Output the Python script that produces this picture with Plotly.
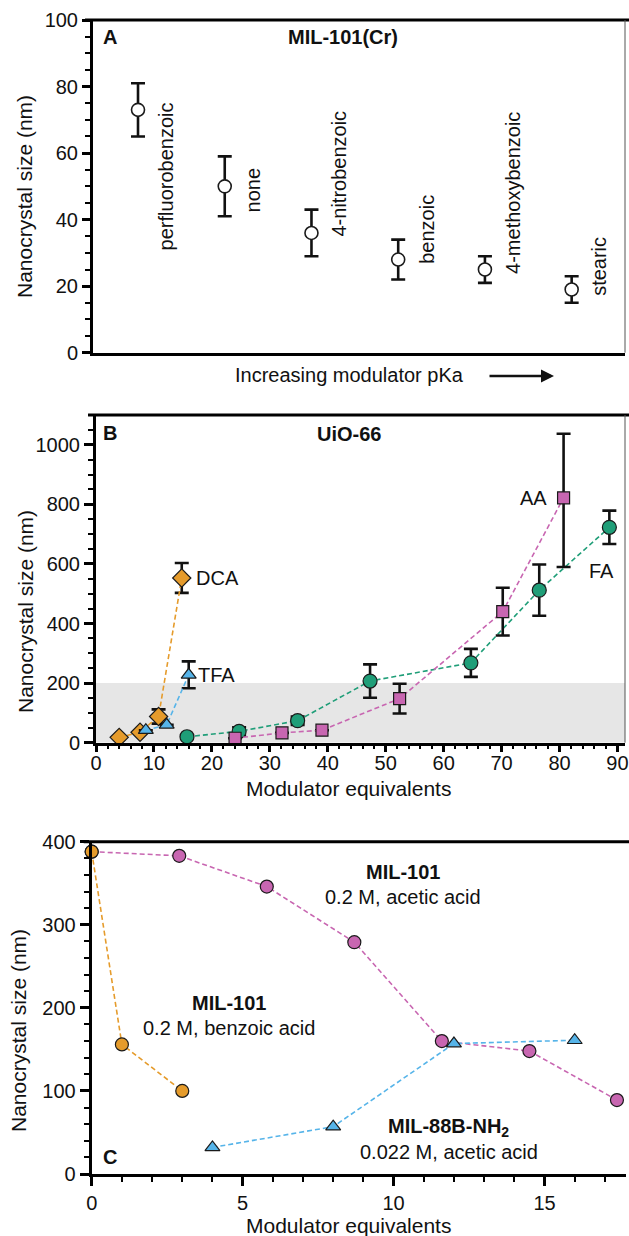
import plotly.graph_objects as go

W, H = 629, 1236
FONT = "Liberation Sans, Arial, Helvetica, sans-serif"

# ---------------- Panel A data: MIL-101(Cr) ----------------
a_modulators = ["perfluorobenzoic", "none", "4-nitrobenzoic", "benzoic", "4-methoxybenzoic", "stearic"]
a_rank = [1, 2, 3, 4, 5, 6]
a_size = [73, 50, 36, 28, 25, 19]
a_err = [8, 9, 7, 6, 4, 4]
a_label_center = [53, 49, 54, 37, 48, 26]

# ---------------- Panel B data: UiO-66 ----------------
dca_x = [4, 7.6, 10.8, 14.8]
dca_y = [18, 35, 88, 553]
dca_err = [0, 0, 24, 50]

tfa_x = [8.6, 12.2, 16.0]
tfa_y = [42, 60, 228]
tfa_err = [0, 0, 45]

fa_x = [15.7, 24.7, 34.8, 47.3, 64.7, 76.5, 88.6]
fa_y = [20, 38, 74, 207, 268, 512, 723]
fa_err = [0, 14, 14, 56, 47, 86, 56]

aa_x = [24, 32.1, 39, 52.4, 70.2, 80.7]
aa_y = [15, 33, 42, 148, 440, 822]
aa_err_plus = [0, 0, 0, 50, 80, 215]
aa_err_minus = [0, 0, 0, 50, 80, 232]

# ---------------- Panel C data ----------------
benz_x = [0, 1, 3]
benz_y = [388, 156, 100]

acet_x = [0, 2.9, 5.8, 8.7, 11.6, 14.5, 17.4]
acet_y = [388, 383, 346, 279, 160, 148, 89]

mil88_x = [4, 8, 12, 16]
mil88_y = [32, 57, 157, 161]

ORANGE = "#E59B2B"
BLUE = "#56B4E9"
GREEN = "#1F9E78"
MAGENTA = "#C866B1"
EDGE = "#1a1a1a"


def px(x):
    return x / W


def py(y):
    return 1 - y / H


fig = go.Figure()

# Panel A
fig.add_trace(go.Scatter(
    x=a_rank, y=a_size, mode="markers", xaxis="x", yaxis="y",
    marker=dict(symbol="circle", size=13, color="white", line=dict(color=EDGE, width=1.6)),
    error_y=dict(type="data", array=a_err, color="#111", thickness=2.6, width=7),
    cliponaxis=False, showlegend=False))

# Panel B


def series_b(x, y, color, symbol, size, err_plus, err_minus=None):
    ey = dict(type="data", array=err_plus, color="#111", thickness=2.6, width=7)
    if err_minus is not None:
        ey["symmetric"] = False
        ey["arrayminus"] = err_minus
    return go.Scatter(
        x=x, y=y, mode="lines+markers", xaxis="x2", yaxis="y2",
        line=dict(color=color, width=1.6, dash="5px,3px"),
        marker=dict(symbol=symbol, size=size, color=color, line=dict(color=EDGE, width=1.2)),
        error_y=ey, cliponaxis=False, showlegend=False)


fig.add_trace(series_b(fa_x, fa_y, GREEN, "circle", 14, fa_err))
fig.add_trace(series_b(aa_x, aa_y, MAGENTA, "square", 12, aa_err_plus, aa_err_minus))
fig.add_trace(series_b(dca_x, dca_y, ORANGE, "diamond", 14, dca_err))
fig.add_trace(series_b(tfa_x, tfa_y, BLUE, "triangle-up", 13, tfa_err))

# Panel C


def series_c(x, y, color, symbol, size):
    return go.Scatter(
        x=x, y=y, mode="lines+markers", xaxis="x3", yaxis="y3",
        line=dict(color=color, width=1.6, dash="5px,3px"),
        marker=dict(symbol=symbol, size=size, color=color, line=dict(color=EDGE, width=1.2)),
        cliponaxis=False, showlegend=False)


fig.add_trace(series_c(acet_x, acet_y, MAGENTA, "circle", 13))
fig.add_trace(series_c(mil88_x, mil88_y, BLUE, "triangle-up", 13))
fig.add_trace(series_c(benz_x, benz_y, ORANGE, "circle", 13))

axis_common = dict(showgrid=False, zeroline=False, showline=True, linecolor="black", linewidth=3,
                   automargin=False, tickfont=dict(family=FONT, size=20, color="#111"))


def ticks(major):
    return dict(ticks="outside", ticklen=major, tickwidth=2.5, tickcolor="black")


def minor_ticks(dt, ln):
    return dict(dtick=dt, ticks="outside", ticklen=ln, tickwidth=2, tickcolor="black")


fig.update_layout(
    width=W, height=H, margin=dict(l=0, r=0, t=0, b=0, autoexpand=False),
    paper_bgcolor="white", plot_bgcolor="white",
    font=dict(family=FONT, size=20, color="#111"),
    xaxis=dict(domain=[px(93), px(625)], range=[0.481, 6.615], anchor="y",
               showticklabels=False, ticks="", **axis_common),
    yaxis=dict(domain=[py(352.7), py(20)], range=[0, 100], anchor="x", dtick=20,
               minor=minor_ticks(5, 5), **ticks(8), **axis_common),
    xaxis2=dict(domain=[px(96), px(625)], range=[0, 91.3], anchor="y2", dtick=10,
                ticklabelstandoff=-6,
                minor=minor_ticks(2, 3), **ticks(6), **axis_common),
    yaxis2=dict(domain=[py(742.7), py(415)], range=[0, 1100], anchor="x2", dtick=200,
                minor=minor_ticks(50, 5), **ticks(9), **axis_common),
    xaxis3=dict(domain=[px(91.7), px(626)], range=[0, 17.7], anchor="y3", dtick=5,
                minor=minor_ticks(1, 5), **ticks(9), **axis_common),
    yaxis3=dict(domain=[py(1174), py(841.7)], range=[0, 400], anchor="x3", dtick=100,
                minor=minor_ticks(20, 5), **ticks(9), **axis_common),
)

shapes = []
# gray band in panel B (0-200 nm)
shapes.append(dict(type="rect", xref="x2 domain", yref="y2", x0=0, x1=1, y0=0, y1=200,
                   fillcolor="#E6E6E6", line=dict(width=0), layer="below"))
# top borders (thick) and right borders (thin)
for xa, ya in [("x", "y"), ("x2", "y2"), ("x3", "y3")]:
    shapes.append(dict(type="line", xref=f"{xa} domain", yref=f"{ya} domain",
                       x0=-0.015, x1=1.01, y0=1, y1=1, line=dict(color="black", width=3)))
for xa, ya in [("x", "y"), ("x2", "y2")]:
    shapes.append(dict(type="line", xref=f"{xa} domain", yref=f"{ya} domain",
                       x0=1, x1=1, y0=0, y1=1, line=dict(color="#555", width=1)))
fig.update_layout(shapes=shapes)

ann = []


def text_px(x, y, text, size=20, angle=0, xanchor="center"):
    ann.append(dict(x=px(x), y=py(y), xref="paper", yref="paper", text=text, showarrow=False,
                    textangle=angle, xanchor=xanchor, yanchor="middle",
                    font=dict(family=FONT, size=size, color="#111")))


# Panel A texts
text_px(110, 37, "<b>A</b>")
text_px(343, 37, "<b>MIL-101(Cr)</b>")
for r, name, c in zip(a_rank, a_modulators, a_label_center):
    ann.append(dict(x=r, y=c, xref="x", yref="y", text=name, showarrow=False, textangle=-90,
                    xshift=28, xanchor="center", yanchor="middle",
                    font=dict(family=FONT, size=20, color="#111")))
text_px(350, 375, "Increasing modulator pKa")
ann.append(dict(x=px(554), y=py(376), ax=-66, ay=0, xref="paper", yref="paper",
                axref="pixel", ayref="pixel", text="", showarrow=True, arrowhead=2,
                arrowsize=1, arrowwidth=2.6, arrowcolor="#111"))
text_px(25, 197, "Nanocrystal size (nm)", size=21, angle=-90)

# Panel B texts
text_px(110, 433, "<b>B</b>")
text_px(349, 434, "<b>UiO-66</b>")
text_px(25, 612, "Nanocrystal size (nm)", size=21, angle=-90)
text_px(349, 788, "Modulator equivalents", size=21)
ann.append(dict(x=dca_x[-1], y=dca_y[-1], xref="x2", yref="y2", text="DCA", showarrow=False,
                xanchor="left", yanchor="middle", xshift=12,
                font=dict(family=FONT, size=20, color="#111")))
ann.append(dict(x=tfa_x[-1], y=tfa_y[-1], xref="x2", yref="y2", text="TFA", showarrow=False,
                xanchor="left", yanchor="middle", xshift=7,
                font=dict(family=FONT, size=20, color="#111")))
ann.append(dict(x=aa_x[-1], y=aa_y[-1], xref="x2", yref="y2", text="AA", showarrow=False,
                xanchor="right", yanchor="middle", xshift=-15,
                font=dict(family=FONT, size=20, color="#111")))
ann.append(dict(x=fa_x[-1], y=fa_y[-1], xref="x2", yref="y2", text="FA", showarrow=False,
                xanchor="center", yanchor="middle", xshift=-8, yshift=-44,
                font=dict(family=FONT, size=20, color="#111")))

# Panel C texts
text_px(110, 1157, "<b>C</b>")
text_px(403, 872, "<b>MIL-101</b>")
text_px(403, 897, "0.2 M, acetic acid")
text_px(229, 1003, "<b>MIL-101</b>")
text_px(229, 1028, "0.2 M, benzoic acid")
text_px(449, 1127, "<b>MIL-88B-NH<sub>2</sub></b>")
text_px(449, 1152, "0.022 M, acetic acid")
text_px(18, 1031, "Nanocrystal size (nm)", size=21, angle=-90)
text_px(349, 1225, "Modulator equivalents", size=21)

fig.update_layout(annotations=ann)

fig.write_html(
    "out.html",
    config={"displayModeBar": False},
    post_script="document.body.style.margin='0';document.body.style.padding='0';"
                "document.body.style.overflow='hidden';",
)
